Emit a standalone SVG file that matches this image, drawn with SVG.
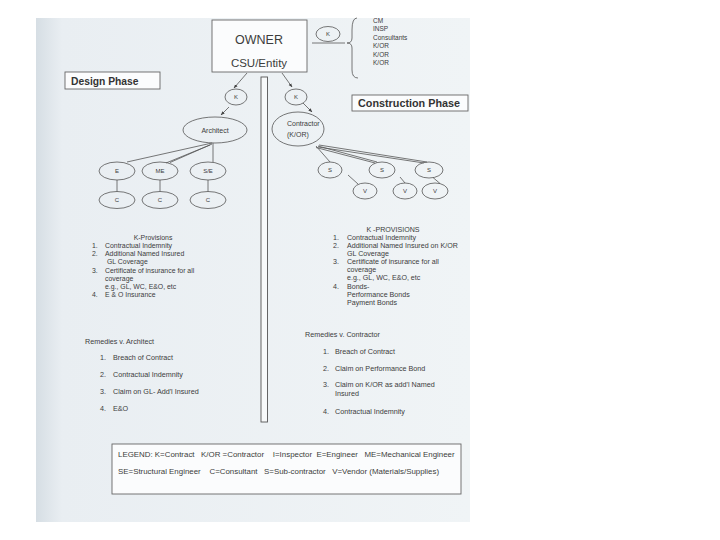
<svg xmlns="http://www.w3.org/2000/svg" width="720" height="540" viewBox="0 0 720 540">
<defs>
<linearGradient id="pg" x1="0" y1="0" x2="1" y2="0">
<stop offset="0" stop-color="#d6dee4"/>
<stop offset="0.06" stop-color="#e9eef2"/>
<stop offset="1" stop-color="#f0f4f6"/>
</linearGradient>
<marker id="ah" viewBox="0 0 10 10" refX="9" refY="5" markerWidth="5" markerHeight="5" orient="auto">
<path d="M0,1 L10,5 L0,9 z" fill="#444"/>
</marker>
<style>
.t{font-family:"Liberation Sans",Arial,sans-serif;fill:#3c3c3c}
.n{fill:none;stroke:#555;stroke-width:0.8}
.ln{stroke:#555;stroke-width:0.8;fill:none}
.box{fill:#fbfcfd;stroke:#666;stroke-width:0.9}
.lbl{font-size:6px;text-anchor:middle}
.li{font-size:6.9px}
.ri{font-size:7.1px}
.rem{font-size:7.2px}
.hd{font-weight:bold;fill:#333}
</style>
</defs>
<rect x="0" y="0" width="720" height="540" fill="#ffffff"/>
<rect x="36" y="18" width="434" height="504" fill="url(#pg)"/>

<g id="owner">
<rect class="box" x="212" y="20" width="95" height="52"/>
<text class="t" x="259" y="44" font-size="12.5" text-anchor="middle">OWNER</text>
<text class="t" x="259" y="67" font-size="11.5" text-anchor="middle">CSU/Entity</text>
</g>

<g id="k-top">
<ellipse class="n" cx="328" cy="34" rx="12" ry="7.5"/>
<text class="t lbl" x="328" y="36" font-size="5">K</text>
</g>

<g id="others">
<path class="ln" d="M357,18 Q352,18 352,30 L352,38 Q352,43 347,43 Q352,43 352,48 L352,70 Q352,78 358,78"/>
<text class="t" x="373" y="23" font-size="6.5">CM</text>
<text class="t" x="373" y="31" font-size="6.5">INSP</text>
<text class="t" x="373" y="39.5" font-size="6.5">Consultants</text>
<text class="t" x="373" y="48" font-size="6.5">K/OR</text>
<text class="t" x="373" y="56.5" font-size="6.5">K/OR</text>
<text class="t" x="373" y="65" font-size="6.5">K/OR</text>
</g>

<g id="design-phase">
<rect class="box" x="65" y="72" width="95" height="17"/>
<text class="t hd" x="71" y="84.5" font-size="10.3">Design Phase</text>
</g>

<g id="construction-phase">
<rect class="box" x="352" y="95" width="116" height="16"/>
<text class="t hd" x="358" y="107" font-size="10.8">Construction Phase</text>
</g>

<g id="divider">
<rect x="261" y="77" width="6.5" height="345" fill="#f7f9fa" stroke="#555" stroke-width="0.9"/>
</g>

<g id="k-left">
<ellipse class="n" cx="236" cy="97" rx="11" ry="8"/>
<text class="t lbl" x="236" y="99" font-size="5">K</text>
</g>
<g id="k-right">
<ellipse class="n" cx="296" cy="97" rx="11" ry="8"/>
<text class="t lbl" x="296" y="99" font-size="5">K</text>
</g>

<g id="architect">
<ellipse class="n" cx="215" cy="130" rx="32" ry="13"/>
<text class="t" x="215" y="133" font-size="7" text-anchor="middle">Architect</text>
</g>
<g id="contractor">
<ellipse class="n" cx="298" cy="129" rx="26" ry="17"/>
<text class="t" x="287" y="126" font-size="7">Contractor</text>
<text class="t" x="287" y="137" font-size="7">(K/OR)</text>
</g>

<g id="e"><ellipse class="n" cx="117" cy="171" rx="18" ry="9"/><text class="t lbl" x="117" y="173">E</text></g>
<g id="me"><ellipse class="n" cx="160" cy="171" rx="18" ry="9"/><text class="t lbl" x="160" y="173">ME</text></g>
<g id="se"><ellipse class="n" cx="208" cy="171" rx="18" ry="9"/><text class="t lbl" x="208" y="173">S/E</text></g>
<g id="c1"><ellipse class="n" cx="117" cy="200" rx="18" ry="8.5"/><text class="t lbl" x="117" y="202">C</text></g>
<g id="c2"><ellipse class="n" cx="160" cy="200" rx="18" ry="8.5"/><text class="t lbl" x="160" y="202">C</text></g>
<g id="c3"><ellipse class="n" cx="208" cy="200" rx="18" ry="8.5"/><text class="t lbl" x="208" y="202">C</text></g>

<g id="s1"><ellipse class="n" cx="330" cy="170" rx="12" ry="8"/><text class="t lbl" x="330" y="172">S</text></g>
<g id="s2"><ellipse class="n" cx="382" cy="170" rx="13" ry="8"/><text class="t lbl" x="382" y="172">S</text></g>
<g id="s3"><ellipse class="n" cx="429" cy="170" rx="14" ry="8"/><text class="t lbl" x="429" y="172">S</text></g>
<g id="v1"><ellipse class="n" cx="365" cy="191" rx="12" ry="8"/><text class="t lbl" x="365" y="193">V</text></g>
<g id="v2"><ellipse class="n" cx="405" cy="191" rx="12" ry="8"/><text class="t lbl" x="405" y="193">V</text></g>
<g id="v3"><ellipse class="n" cx="435" cy="191" rx="13" ry="8"/><text class="t lbl" x="435" y="193">V</text></g>

<g id="connectors">
<line class="ln" x1="312" y1="43" x2="345" y2="43"/>
<line class="ln" x1="247" y1="73" x2="234" y2="88" marker-end="url(#ah)"/>
<line class="ln" x1="229" y1="107" x2="221" y2="115" marker-end="url(#ah)"/>
<line class="ln" x1="282" y1="73" x2="292" y2="87" marker-end="url(#ah)"/>
<line class="ln" x1="303" y1="103" x2="312" y2="112" marker-end="url(#ah)"/>
<line class="ln" x1="212" y1="143" x2="127" y2="162"/>
<line class="ln" x1="212" y1="144" x2="170" y2="162.5"/>
<line class="ln" x1="210" y1="145" x2="166" y2="163"/>
<line class="ln" x1="213" y1="143" x2="213" y2="162"/>
<line class="ln" x1="117" y1="180" x2="117" y2="191.5"/>
<line class="ln" x1="160" y1="180" x2="160" y2="191.5"/>
<line class="ln" x1="208" y1="180" x2="208" y2="191.5"/>
<line class="ln" x1="316" y1="146" x2="330" y2="162"/>
<line class="ln" x1="318" y1="146" x2="377" y2="162"/>
<line class="ln" x1="316" y1="147.5" x2="375" y2="163"/>
<line class="ln" x1="319" y1="145" x2="427" y2="162"/>
<line class="ln" x1="318" y1="147" x2="424" y2="163"/>
<line class="ln" x1="348" y1="175" x2="358" y2="184"/>
<line class="ln" x1="400" y1="177" x2="405" y2="183"/>
<line class="ln" x1="433" y1="177.5" x2="440" y2="183.5"/>
</g>

<g id="k-provisions-left">
<text class="t li" x="153" y="240" text-anchor="middle">K-Provisions</text>
<text class="t li" x="92" y="248">1.</text><text class="t li" x="105" y="248">Contractual Indemnity</text>
<text class="t li" x="92" y="256.2">2.</text><text class="t li" x="105" y="256.2">Additional Named Insured</text>
<text class="t li" x="107" y="264.4">GL Coverage</text>
<text class="t li" x="92" y="272.6">3.</text><text class="t li" x="105" y="272.6">Certificate of insurance for all</text>
<text class="t li" x="105" y="280.6">coverage</text>
<text class="t li" x="105" y="288.6">e.g., GL, WC, E&amp;O, etc</text>
<text class="t li" x="92" y="296.8">4.</text><text class="t li" x="105" y="296.8">E &amp; O Insurance</text>
</g>

<g id="k-provisions-right">
<text class="t ri" x="393" y="231.5" text-anchor="middle">K -PROVISIONS</text>
<text class="t ri" x="333" y="239.7">1.</text><text class="t ri" x="347" y="239.7">Contractual Indemnity</text>
<text class="t ri" x="333" y="247.9">2.</text><text class="t ri" x="347" y="247.9">Additional Named Insured on K/OR</text>
<text class="t ri" x="347" y="256.1">GL Coverage</text>
<text class="t ri" x="333" y="264.3">3.</text><text class="t ri" x="347" y="264.3">Certificate of insurance for all</text>
<text class="t ri" x="347" y="272.3">coverage</text>
<text class="t ri" x="347" y="280.3">e.g., GL, WC, E&amp;O, etc</text>
<text class="t ri" x="333" y="288.5">4.</text><text class="t ri" x="347" y="288.5">Bonds-</text>
<text class="t ri" x="347" y="296.5">Performance Bonds</text>
<text class="t ri" x="347" y="304.5">Payment Bonds</text>
</g>

<g id="remedies-architect">
<text class="t rem" x="85" y="344">Remedies v. Architect</text>
<text class="t rem" x="100" y="360">1.</text><text class="t rem" x="113" y="360">Breach of Contract</text>
<text class="t rem" x="100" y="377">2.</text><text class="t rem" x="113" y="377">Contractual Indemnity</text>
<text class="t rem" x="100" y="394">3.</text><text class="t rem" x="113" y="394">Claim on GL- Add'l Insured</text>
<text class="t rem" x="100" y="411">4.</text><text class="t rem" x="113" y="411">E&amp;O</text>
</g>

<g id="remedies-contractor">
<text class="t rem" x="305" y="337">Remedies v. Contractor</text>
<text class="t rem" x="323" y="354">1.</text><text class="t rem" x="335" y="354">Breach of Contract</text>
<text class="t rem" x="323" y="371">2.</text><text class="t rem" x="335" y="371">Claim on Performance Bond</text>
<text class="t rem" x="323" y="387">3.</text><text class="t rem" x="335" y="387">Claim on K/OR as add'l Named</text>
<text class="t rem" x="335" y="396">Insured</text>
<text class="t rem" x="323" y="414">4.</text><text class="t rem" x="335" y="414">Contractual Indemnity</text>
</g>

<g id="legend">
<rect class="box" x="112" y="444" width="349" height="50"/>
<text class="t" x="118" y="457" font-size="7.9" xml:space="preserve">LEGEND: K=Contract   K/OR =Contractor    I=Inspector  E=Engineer   ME=Mechanical Engineer</text>
<text class="t" x="118" y="474" font-size="7.9" xml:space="preserve">SE=Structural Engineer    C=Consultant   S=Sub-contractor   V=Vendor (Materials/Supplies)</text>
</g>
</svg>
